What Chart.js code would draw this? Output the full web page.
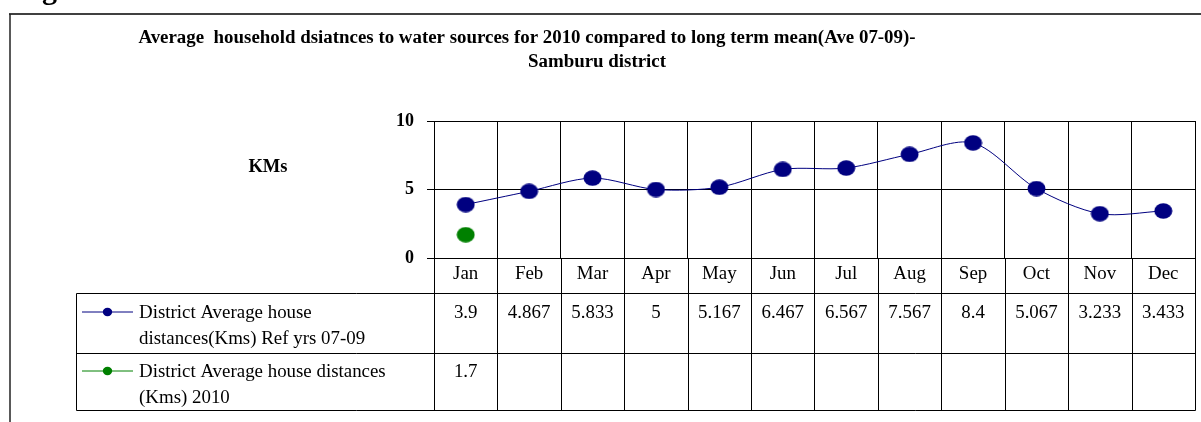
<!DOCTYPE html>
<html><head><meta charset="utf-8">
<script src="https://cdn.jsdelivr.net/npm/chart.js@4.4.0/dist/chart.umd.min.js"></script>
<style>html,body{margin:0;padding:0;background:#fff;}canvas{display:block}</style>
</head><body>
<canvas id="c" width="1201" height="422"></canvas>
<script>
const months = ['Jan','Feb','Mar','Apr','May','Jun','Jul','Aug','Sep','Oct','Nov','Dec'];
const refValues = [3.9, 4.867, 5.833, 5, 5.167, 6.467, 6.567, 7.567, 8.4, 5.067, 3.233, 3.433];
const values2010 = [1.7, null, null, null, null, null, null, null, null, null, null, null];
const seriesNames = [
  ['District Average house', 'distances(Kms) Ref yrs 07-09'],
  ['District Average house distances', '(Kms) 2010']
];
const seriesColors = ['#000080', '#008000'];
const yTicks = [0, 5, 10];
const titleLines = ['Average  household dsiatnces to water sources for 2010 compared to long term mean(Ave 07-09)-', 'Samburu district'];
const yAxisTitle = 'KMs';
const headingText = 'Fig';

const SERIF = '"Liberation Serif","Times New Roman",serif';
const al = v => Math.round(v) + 0.5;

function ellipseMarker(color) {
  const c = document.createElement('canvas');
  c.width = 19; c.height = 16;
  const g = c.getContext('2d');
  g.fillStyle = color;
  g.beginPath();
  g.ellipse(9.5, 8, 9, 7.7, 0, 0, Math.PI * 2);
  g.fill();
  return c;
}

const framePlugin = {
  id: 'framePlugin',
  beforeDraw(chart) {
    const ctx = chart.ctx;
    ctx.save();
    ctx.fillStyle = '#fff';
    ctx.fillRect(0, 0, chart.width, chart.height);
    // partial heading above frame (only the descender shows)
    ctx.fillStyle = '#000';
    ctx.font = 'bold 30px ' + SERIF;
    ctx.textAlign = 'left';
    ctx.textBaseline = 'alphabetic';
    const fi = ctx.measureText('Fi').width;
    ctx.fillText(headingText, 42 - fi, -1);
    // outer frame
    ctx.strokeStyle = '#404040';
    ctx.lineWidth = 2;
    ctx.beginPath(); ctx.moveTo(9, 14); ctx.lineTo(chart.width, 14); ctx.stroke();
    ctx.strokeStyle = '#222';
    ctx.lineWidth = 1.5;
    ctx.beginPath(); ctx.moveTo(10, 14); ctx.lineTo(10, chart.height); ctx.stroke();
    // title
    ctx.fillStyle = '#000';
    ctx.font = 'bold 18.9px ' + SERIF;
    ctx.textAlign = 'center';
    ctx.fillText(titleLines[0], 527, 43);
    ctx.fillText(titleLines[1], 597, 67);
    // y axis title
    ctx.font = 'bold 18.5px ' + SERIF;
    ctx.fillText(yAxisTitle, 268, 172);
    ctx.restore();
  },
  afterDraw(chart) {
    const ctx = chart.ctx;
    const xs = chart.scales.x;
    const ca = chart.chartArea;
    const centers = months.map((m, i) => xs.getPixelForValue(i));
    const half = (centers[1] - centers[0]) / 2;
    const bounds = centers.map(c => c - half).concat([centers[centers.length - 1] + half]);
    const top = ca.bottom;
    const monthBottom = top + 35;
    const rowH = [60, 57];
    const r1Bottom = monthBottom + rowH[0];
    const r2Bottom = r1Bottom + rowH[1];
    const tableLeft = 76.5;
    ctx.save();
    ctx.strokeStyle = '#000';
    ctx.lineWidth = 1;
    ctx.beginPath();
    bounds.forEach(b => { ctx.moveTo(al(b), top); ctx.lineTo(al(b), al(r2Bottom)); });
    [monthBottom, r1Bottom, r2Bottom].forEach(y => { ctx.moveTo(tableLeft, al(y)); ctx.lineTo(al(bounds[bounds.length - 1]), al(y)); });
    ctx.moveTo(tableLeft, al(monthBottom)); ctx.lineTo(tableLeft, al(r2Bottom));
    ctx.stroke();

    const rows = [[monthBottom, r1Bottom], [r1Bottom, r2Bottom]];
    const data = [refValues, values2010];
    const fs = 18.9;
    ctx.font = fs + 'px ' + SERIF;
    ctx.textBaseline = 'alphabetic';
    data.forEach((vals, r) => {
      const center = (rows[r][0] + rows[r][1]) / 2 + 2;
      const mid1 = center - 12.8;
      const base1 = mid1 + 0.33 * fs;
      // legend marker
      const ly = Math.round(mid1);
      ctx.strokeStyle = seriesColors[r];
      ctx.lineWidth = 1;
      ctx.beginPath(); ctx.moveTo(82, ly); ctx.lineTo(133, ly); ctx.stroke();
      ctx.fillStyle = seriesColors[r];
      ctx.beginPath(); ctx.ellipse(107.5, ly, 4.7, 4.2, 0, 0, Math.PI * 2); ctx.fill();
      ctx.fillStyle = '#000';
      ctx.textAlign = 'left';
      seriesNames[r].forEach((t, k) => ctx.fillText(t, 139, base1 + k * 25.6));
      ctx.textAlign = 'center';
      vals.forEach((v, i) => {
        if (v === null || v === undefined) return;
        ctx.fillText(String(v), centers[i], base1);
      });
    });
    ctx.restore();
  }
};

new Chart(document.getElementById('c'), {
  type: 'line',
  data: {
    labels: months,
    datasets: [
      {
        label: seriesNames[0].join(' '),
        data: refValues,
        borderColor: seriesColors[0],
        backgroundColor: seriesColors[0],
        pointStyle: ellipseMarker(seriesColors[0]),
        borderWidth: 1,
        pointRadius: 8,
        pointHoverRadius: 8,
        tension: 0.3,
        fill: false
      },
      {
        label: seriesNames[1].join(' '),
        data: values2010,
        borderColor: seriesColors[1],
        backgroundColor: seriesColors[1],
        pointStyle: ellipseMarker(seriesColors[1]),
        borderWidth: 1,
        pointRadius: 8,
        pointHoverRadius: 8,
        fill: false
      }
    ]
  },
  options: {
    responsive: false,
    animation: false,
    devicePixelRatio: 1,
    layout: { autoPadding: false, padding: { left: 374, right: 6, top: 121, bottom: 12 } },
    plugins: { legend: { display: false }, title: { display: false }, tooltip: { enabled: false } },
    scales: {
      x: {
        type: 'category',
        offset: true,
        grid: { offset: true, color: '#000', lineWidth: 1, drawTicks: false },
        border: { display: true, color: '#000', width: 1 },
        ticks: { color: '#000', font: { family: SERIF, size: 18.9 }, padding: 5, maxRotation: 0, autoSkip: false },
        afterFit(s) { s.height = 152; s.paddingLeft = 0; s.paddingRight = 0; }
      },
      y: {
        min: 0, max: 10,
        afterBuildTicks(s) { s.ticks = yTicks.map(v => ({ value: v })); },
        grid: { color: '#000', lineWidth: 1, drawTicks: true, tickLength: 7 },
        border: { display: true, color: '#000', width: 1 },
        ticks: { color: '#000', font: { family: SERIF, size: 18, weight: 'bold' }, padding: 13 },
        afterFit(s) { s.width = 60; s.paddingTop = 0; s.paddingBottom = 0; }
      }
    }
  },
  plugins: [framePlugin]
});
</script>
</body></html>
